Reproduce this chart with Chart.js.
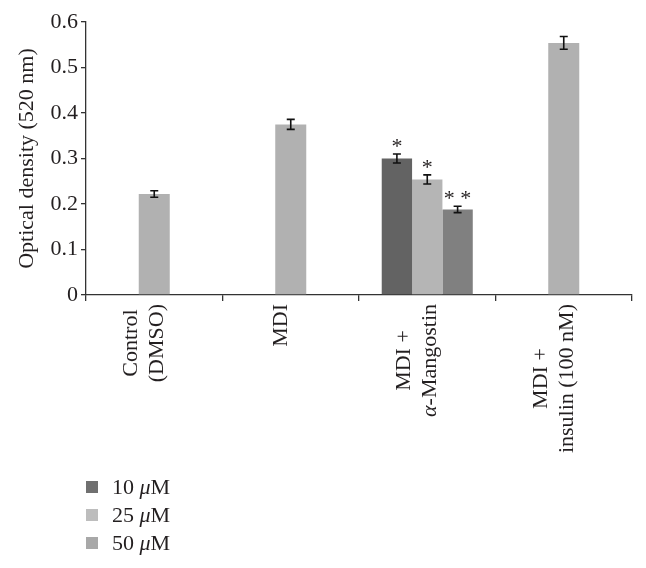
<!DOCTYPE html>
<html>
<head>
<meta charset="utf-8">
<script src="https://cdn.jsdelivr.net/npm/chart.js@4.4.1/dist/chart.umd.min.js"></script>
<style>
  html, body { margin: 0; padding: 0; background: #fff; }
</style>
</head>
<body>
<canvas id="chart-od" width="646" height="568"></canvas>
<script>
// categories (multi-line labels), an italic Greek letter is marked with _ around it
const groups = [["Control", "(DMSO)"], ["MDI"], ["MDI +", "_α_-Mangostin"], ["MDI +", "insulin (100 nM)"]];
const seriesNames = ["10 _μ_M", "25 _μ_M", "50 _μ_M"];

// single treatments (no dose)
const single = [0.222, 0.375, null, 0.554];
const singleErr = [0.007, 0.011, null, 0.014];

// alpha-mangostin doses
const dose10 = [null, null, 0.300, null];
const dose10Err = [null, null, 0.010, null];
const dose25 = [null, null, 0.254, null];
const dose25Err = [null, null, 0.010, null];
const dose50 = [null, null, 0.188, null];
const dose50Err = [null, null, 0.007, null];

const sig10 = [null, null, "*", null];
const sig25 = [null, null, "*", null];
const sig50 = [null, null, "* *", null];

const yMin = 0, yMax = 0.6, yStep = 0.1;

const FONT = '"Liberation Serif", "Times New Roman", serif';
const TEXT = "#231f20";
const SIZE = 22;

// draw text where _x_ parts are italic
function drawRich(ctx, str, x, y, size, align) {
  const parts = str.split("_").map((t, k) => ({ t: t, it: k % 2 === 1 }));
  let w = 0;
  parts.forEach((p) => {
    ctx.font = (p.it ? "italic " : "") + size + "px " + FONT;
    p.w = ctx.measureText(p.t).width;
    w += p.w;
  });
  let cx = align === "center" ? x - w / 2 : x;
  ctx.textAlign = "left";
  parts.forEach((p) => {
    ctx.font = (p.it ? "italic " : "") + size + "px " + FONT;
    ctx.fillText(p.t, cx, y);
    cx += p.w;
  });
  return w;
}

function richWidth(ctx, str, size) {
  let w = 0;
  str.split("_").forEach((t, k) => {
    ctx.font = (k % 2 === 1 ? "italic " : "") + size + "px " + FONT;
    w += ctx.measureText(t).width;
  });
  return w;
}

const errorBars = {
  id: "errorBars",
  afterDatasetsDraw(chart) {
    const ctx = chart.ctx;
    const y = chart.scales.y;
    chart.data.datasets.forEach((ds, i) => {
      const meta = chart.getDatasetMeta(i);
      meta.data.forEach((bar, j) => {
        const v = ds.data[j];
        if (v == null) return;
        const e = ds.err[j];
        const top = y.getPixelForValue(v + e);
        const bot = y.getPixelForValue(v - e);
        ctx.save();
        ctx.strokeStyle = "#111";
        ctx.lineWidth = 1.6;
        ctx.beginPath();
        ctx.moveTo(bar.x, top);
        ctx.lineTo(bar.x, bot);
        ctx.moveTo(bar.x - 4, top);
        ctx.lineTo(bar.x + 4, top);
        ctx.moveTo(bar.x - 4, bot);
        ctx.lineTo(bar.x + 4, bot);
        ctx.stroke();
        if (ds.sig && ds.sig[j]) {
          ctx.fillStyle = TEXT;
          ctx.textBaseline = "alphabetic";
          drawRich(ctx, ds.sig[j], bar.x, top - 1, SIZE, "center");
        }
        ctx.restore();
      });
    });
  },
};

const xLabels = {
  id: "xLabels",
  afterDraw(chart) {
    const ctx = chart.ctx;
    const x = chart.scales.x;
    const lh = 26;
    ctx.save();
    ctx.fillStyle = TEXT;
    ctx.textBaseline = "middle";
    groups.forEach((lines, i) => {
      const px = x.getPixelForValue(i) - 10;
      const maxW = Math.max(...lines.map((l) => richWidth(ctx, l, SIZE)));
      const along = x.top + 9 + maxW / 2;
      lines.forEach((line, k) => {
        ctx.save();
        ctx.translate(px + (k - (lines.length - 1) / 2) * lh, along);
        ctx.rotate(-Math.PI / 2);
        drawRich(ctx, line, 0, 0, SIZE, "center");
        ctx.restore();
      });
    });
    ctx.restore();
  },
};

const sideLegend = {
  id: "sideLegend",
  afterDraw(chart) {
    const ctx = chart.ctx;
    const left = chart.chartArea.left;
    ctx.save();
    ctx.textBaseline = "alphabetic";
    seriesNames.forEach((name, i) => {
      const cy = 487 + i * 28;
      ctx.fillStyle = chart.data.datasets[i].legendColor;
      ctx.fillRect(left, cy - 6, 12, 12);
      ctx.fillStyle = TEXT;
      drawRich(ctx, name, left + 26, cy + 7, SIZE, "left");
    });
    ctx.restore();
  },
};

Chart.defaults.font.family = FONT;
Chart.defaults.font.size = SIZE;
Chart.defaults.color = TEXT;

const ctx = document.getElementById("chart-od").getContext("2d");
const odChart = new Chart(ctx, {
  type: "bar",
  data: {
    labels: groups.map((g) => g.join(" ")),
    datasets: [
      { label: seriesNames[0], data: dose10, err: dose10Err, sig: sig10, backgroundColor: "#636363", legendColor: "#707070" },
      { label: seriesNames[1], data: dose25, err: dose25Err, sig: sig25, backgroundColor: "#b5b5b5", legendColor: "#bdbdbd" },
      { label: seriesNames[2], data: dose50, err: dose50Err, sig: sig50, backgroundColor: "#808080", legendColor: "#a8a8a8" },
      { label: "treatment", data: single, err: singleErr, backgroundColor: "#b1b1b1" },
    ],
  },
  options: {
    responsive: false,
    animation: false,
    layout: { padding: { top: 22, right: 14, left: 0, bottom: 0 } },
    datasets: {
      bar: {
        skipNull: true,
        barPercentage: 1,
        categoryPercentage: 0.667,
        maxBarThickness: 31,
        borderWidth: 0,
      },
    },
    plugins: {
      legend: { display: false },
      tooltip: { enabled: false },
    },
    scales: {
      x: {
        ticks: { display: false },
        grid: { drawOnChartArea: false, tickLength: 6, color: "#333", lineWidth: 1.3 },
        border: { color: "#333", width: 1.3 },
        afterFit: (scale) => { scale.height = 568 - 295; },
      },
      y: {
        min: yMin,
        max: yMax,
        ticks: {
          stepSize: yStep,
          padding: 3,
          callback: (v) => (v === 0 ? "0" : v.toFixed(1)),
        },
        grid: { drawOnChartArea: false, tickLength: 5, color: "#333", lineWidth: 1.3 },
        border: { color: "#333", width: 1.3 },
        title: {
          display: true,
          text: "Optical density (520 nm)",
          padding: { top: 14, bottom: 0 },
        },
        afterFit: (scale) => { scale.width = 86; },
      },
    },
  },
  plugins: [errorBars, xLabels, sideLegend],
});
</script>
</body>
</html>
